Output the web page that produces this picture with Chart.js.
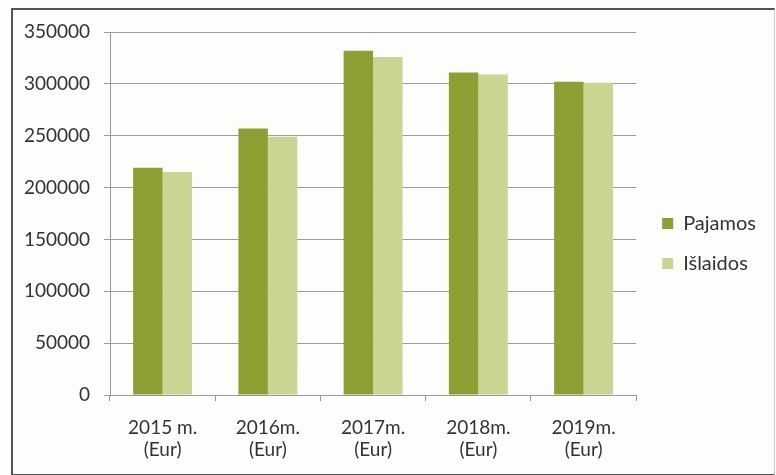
<!DOCTYPE html>
<html>
<head>
<meta charset="utf-8">
<script src="https://cdn.jsdelivr.net/npm/chart.js@4/dist/chart.umd.min.js"></script>
<style>
  body { margin: 0; background: #fdfdfc; }
  #wrap { position: absolute; left: 0; top: 0; width: 776px; height: 475px; }
  #frame { position: absolute; left: 11px; top: 8px; width: 761px; height: 464px; border: 2px solid #555; border-right-width: 1px; border-right-color: #ccc; box-sizing: content-box; }
  canvas { position: absolute; left: 0; top: 0; }
</style>
</head>
<body>
<div id="wrap">
  <div id="frame"></div>
  <canvas id="myChart" width="776" height="475"></canvas>
</div>
<script>
const years = [['2015 m.', '(Eur)'], ['2016m.', '(Eur)'], ['2017m.', '(Eur)'], ['2018m.', '(Eur)'], ['2019m.', '(Eur)']]
const pajamos = [219000, 257000, 332000, 311000, 302000]
const islaidos = [215000, 249000, 326000, 309000, 301000]
const yTicks = [0, 50000, 100000, 150000, 200000, 250000, 300000, 350000]

// nudge the legend a bit, like the Excel original
const legendShift = {
    id: 'legendShift',
    afterLayout(chart) {
        const lg = chart.legend
        lg.left += 6
        lg.right += 6
        lg.top -= 10
        lg.bottom -= 10
    }
}

const ctx = document.getElementById('myChart')
const myChart = new Chart(ctx, {
    type: 'bar',
    data: {
        labels: years,
        datasets: [
            {
                label: 'Pajamos',
                data: pajamos,
                backgroundColor: '#8b9f33',
                borderWidth: 0,
                barPercentage: 1,
                categoryPercentage: 0.56
            },
            {
                label: 'Išlaidos',
                data: islaidos,
                backgroundColor: '#cad593',
                borderWidth: 0,
                barPercentage: 1,
                categoryPercentage: 0.56
            }
        ]
    },
    options: {
        responsive: false,
        animation: false,
        layout: {
            padding: { top: 32, left: 0, right: 16, bottom: 0 }
        },
        scales: {
            x: {
                grid: { offset: true, drawOnChartArea: false, tickLength: 6, color: '#999' },
                border: { color: '#999' },
                ticks: { color: '#333', font: { family: 'Lato', size: 19 }, padding: 15, maxRotation: 0 },
                afterFit: (scale) => { scale.height = 80 }
            },
            y: {
                min: 0,
                max: 350000,
                afterBuildTicks: (scale) => { scale.ticks = yTicks.map(v => ({ value: v })) },
                grid: { tickLength: 6, color: '#9a9a9a' },
                border: { color: '#999' },
                ticks: { color: '#333', font: { family: 'Lato', size: 19 }, padding: 14, callback: (v) => String(v) },
                afterFit: (scale) => { scale.width = 110 }
            }
        },
        plugins: {
            legend: {
                position: 'right',
                labels: {
                    color: '#333',
                    boxWidth: 11,
                    boxHeight: 11,
                    padding: 20,
                    font: { family: 'Lato', size: 20 }
                }
            },
            tooltip: { enabled: false }
        }
    },
    plugins: [legendShift]
})
</script>
</body>
</html>
